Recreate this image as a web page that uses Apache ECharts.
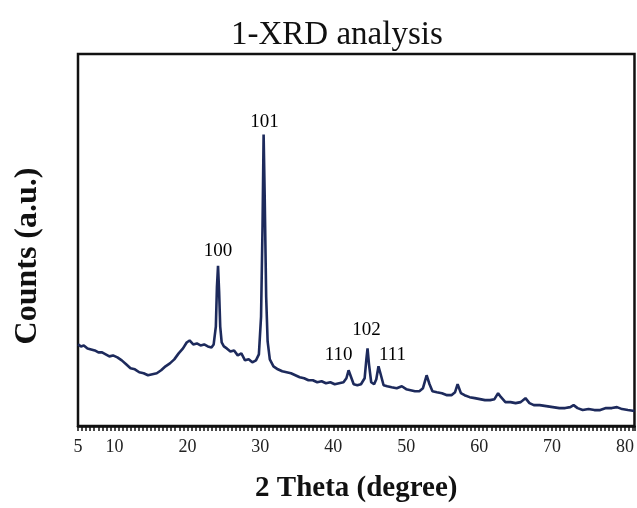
<!DOCTYPE html>
<html lang="en">

<head>
  <meta charset="UTF-8">
  <title>1-XRD analysis</title>
  <style>
    body {
      margin: 0;
      background: #fff;
    }

    #main {
      width: 637px;
      height: 508px;
    }
  </style>
</head>

<body>
<div id="main"></div>
<script src="https://cdn.jsdelivr.net/npm/echarts@6/dist/echarts.min.js"></script>
<script>
  // 2θ (degree) sampled along the pattern
  let twoTheta = [
    5.0, 5.4, 5.8, 6.3, 6.8, 7.3, 7.8, 8.3, 8.8, 9.3, 9.8, 10.4, 11.0, 11.6, 12.2, 12.8, 13.4, 14.0, 14.6, 15.2,
    15.8, 16.4, 17.0, 17.6, 18.2, 18.8, 19.4, 19.9, 20.3, 20.8, 21.3, 21.8, 22.3, 22.8, 23.3, 23.6, 23.9, 24.05, 24.2, 24.35,
    24.5, 24.7, 25.0, 25.4, 25.9, 26.4, 26.9, 27.4, 27.9, 28.4, 28.9, 29.4, 29.8, 30.1, 30.3, 30.45, 30.6, 30.8, 31.0, 31.3,
    31.8, 32.4, 33.0, 33.6, 34.2, 34.8, 35.4, 36.0, 36.6, 37.2, 37.8, 38.4, 39.0, 39.6, 40.2, 40.8, 41.4, 41.8, 42.1, 42.4,
    42.8, 43.3, 43.8, 44.3, 44.55, 44.7, 44.9, 45.2, 45.6, 45.9, 46.2, 46.5, 46.9, 47.4, 48.0, 48.7, 49.4, 50.0, 50.6, 51.2,
    51.8, 52.3, 52.8, 53.2, 53.6, 54.2, 54.9, 55.6, 56.2, 56.7, 57.05, 57.5, 58.0, 58.7, 59.4, 60.1, 60.8, 61.5, 62.1, 62.6,
    63.0, 63.6, 64.3, 65.0, 65.7, 66.35, 66.9, 67.5, 68.3, 69.2, 70.1, 71.0, 71.8, 72.5, 72.95, 73.5, 74.2, 75.0, 75.8, 76.6,
    77.4, 78.2, 78.9, 79.6, 80.4, 81.3
  ]
  // intensity (a.u.)
  let counts = [
    82, 80, 81, 78, 77, 76, 74, 74, 72, 70, 71, 69, 66, 62, 58, 57, 54, 53, 51, 52,
    53, 56, 60, 63, 67, 73, 78, 84, 86, 82, 83, 81, 82, 80, 79, 82, 100, 140, 161, 135,
    100, 84, 80, 78, 75, 76, 71, 73, 66, 67, 64, 66, 72, 110, 200, 293, 230, 130, 85, 67,
    60, 57, 55, 54, 53, 51, 49, 48, 46, 46, 44, 45, 43, 44, 42, 43, 44, 48, 56, 50,
    42, 41, 42, 48, 68, 78, 62, 44, 42, 47, 60, 52, 41, 40, 39, 38, 40, 37, 36, 35,
    35, 38, 51, 42, 35, 34, 33, 31, 31, 34, 42, 33, 31, 29, 28, 27, 26, 26, 27, 33,
    29, 24, 24, 23, 24, 28, 23, 21, 21, 20, 19, 18, 18, 19, 21, 18, 16, 17, 16, 16,
    18, 18, 19, 17, 16, 15
  ]

  // 峰标注
  let peakNames = ['100', '101', '110', '102', '111']
  let peakTheta = [24.2, 30.45, 42.1, 44.7, 46.2]
  let peakCounts = [161, 293, 56, 78, 60]

  let xLabelValues = [5, 10, 20, 30, 40, 50, 60, 70, 80]

  // 标注文字相对峰顶的偏移
  let labelOffset = {
    '100': [0, -5.5],
    '101': [1, -3.5],
    '110': [-10, -5.5],
    '102': [-1, -8.5],
    '111': [14, -1.5]
  }

  let chart = echarts.init(document.getElementById('main'))
  let serif = '"Liberation Serif", "Times New Roman", serif'

  let lineData = twoTheta.map((t, i) => [t, counts[i]])
  let peakData = peakNames.map((n, i) => ({
    name: n,
    value: [peakTheta[i], peakCounts[i]],
    label: { offset: labelOffset[n] }
  }))

  let option = {
    animation: false,
    backgroundColor: '#fff',
    title: {
      text: '1-XRD analysis',
      left: 226,
      top: 14,
      textStyle: {
        fontFamily: serif,
        fontWeight: 'normal',
        fontSize: 33,
        color: '#111'
      }
    },
    grid: {
      left: 78,
      right: 2,
      top: 54,
      bottom: 79,
      show: true,
      borderColor: '#111',
      borderWidth: 2.5
    },
    xAxis: {
      type: 'value',
      min: 5,
      max: 81.3,
      interval: 5,
      name: '2 Theta (degree)',
      nameLocation: 'middle',
      nameGap: 48,
      nameTextStyle: {
        fontFamily: serif,
        fontWeight: 'bold',
        fontSize: 29,
        color: '#111'
      },
      axisLine: { lineStyle: { color: '#111', width: 2.5 } },
      axisTick: { length: 5, lineStyle: { color: '#111', width: 1.5 } },
      minorTick: { show: true, splitNumber: 9, length: 5, lineStyle: { color: '#111', width: 1.5 } },
      axisLabel: {
        customValues: xLabelValues,
        margin: 12,
        fontFamily: serif,
        fontSize: 18,
        color: '#222'
      },
      splitLine: { show: false }
    },
    yAxis: {
      type: 'value',
      min: 0,
      max: 374,
      name: 'Counts (a.u.)',
      nameLocation: 'middle',
      nameGap: 34,
      nameTextStyle: {
        fontFamily: serif,
        fontWeight: 'bold',
        fontSize: 32,
        color: '#111',
        padding: [0, 32, 0, 0]
      },
      axisLine: { show: false },
      axisTick: { show: false },
      axisLabel: { show: false },
      splitLine: { show: false }
    },
    series: [
      {
        type: 'line',
        data: lineData,
        showSymbol: false,
        symbol: 'none',
        lineStyle: { color: '#1d2a5c', width: 2.6 }
      },
      {
        type: 'scatter',
        data: peakData,
        symbolSize: 0,
        silent: true,
        label: {
          show: true,
          position: 'top',
          distance: 0,
          formatter: '{b}',
          fontFamily: serif,
          fontSize: 19,
          color: '#000',
          opacity: 1
        }
      }
    ]
  }

  chart.setOption(option)
</script>
</body>

</html>
